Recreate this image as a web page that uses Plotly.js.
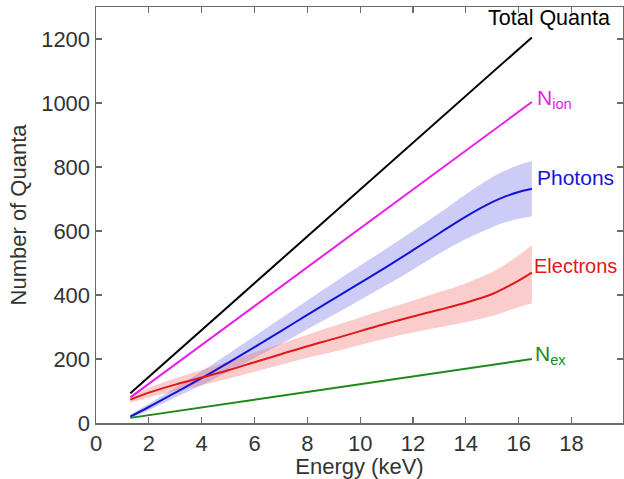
<!DOCTYPE html>
<html>
<head>
<meta charset="utf-8">
<script src="https://cdn.plot.ly/plotly-3.0.1.min.js"></script>
<style>html,body{margin:0;padding:0;background:#fff;}#chart{width:624px;height:479px;}</style>
</head>
<body>
<div id="chart"></div>
<script>
// Straight-line series (endpoints)
const lineEnergy = [1.3, 16.5];
const totalQuanta = [93, 1205];
const nIon = [80, 1003];
const nEx = [16, 200];

// Curved series with uncertainty bands
const energy = [1.3, 2, 3, 4, 5, 6, 7, 8, 9, 10, 11, 12, 13, 14, 15, 15.5, 16, 16.5];
const photons = [20, 50, 95, 140, 188, 237, 287, 338, 388, 438, 488, 540, 593, 645, 690, 708, 722, 732];
const photonsUpper = [26, 60, 110, 162, 216, 271, 327, 383, 438, 492, 545, 600, 656, 715, 768, 789, 806, 818];
const photonsLower = [14, 40, 80, 118, 160, 203, 247, 293, 338, 384, 431, 480, 530, 575, 612, 627, 638, 646];
const electrons = [73, 95, 120, 142, 165, 190, 215, 240, 263, 287, 311, 333, 354, 376, 403, 423, 445, 470];
const electronsUpper = [83, 110, 140, 166, 192, 220, 248, 276, 303, 330, 357, 383, 409, 437, 472, 496, 524, 556];
const electronsLower = [63, 80, 100, 118, 138, 160, 182, 204, 223, 244, 265, 283, 299, 315, 334, 348, 362, 374];

const labels = ['Total Quanta', 'N<sub>ion</sub>', 'Photons', 'Electrons', 'N<sub>ex</sub>'];
const xTicks = [0, 2, 4, 6, 8, 10, 12, 14, 16, 18];
const yTicks = [0, 200, 400, 600, 800, 1000, 1200];

const traces = [
  {x: energy, y: photonsLower, mode: 'lines', line: {width: 0, color: 'rgba(0,0,0,0)', shape: 'spline'}, hoverinfo: 'skip', showlegend: false},
  {x: energy, y: photonsUpper, mode: 'lines', fill: 'tonexty', fillcolor: 'rgba(120,120,235,0.38)', line: {width: 0, color: 'rgba(0,0,0,0)', shape: 'spline'}, hoverinfo: 'skip', showlegend: false},
  {x: energy, y: electronsLower, mode: 'lines', line: {width: 0, color: 'rgba(0,0,0,0)', shape: 'spline'}, hoverinfo: 'skip', showlegend: false},
  {x: energy, y: electronsUpper, mode: 'lines', fill: 'tonexty', fillcolor: 'rgba(240,110,110,0.35)', line: {width: 0, color: 'rgba(0,0,0,0)', shape: 'spline'}, hoverinfo: 'skip', showlegend: false},
  {x: lineEnergy, y: totalQuanta, mode: 'lines', line: {color: '#000000', width: 2}, name: labels[0]},
  {x: lineEnergy, y: nIon, mode: 'lines', line: {color: '#e81ce8', width: 2}, name: labels[1]},
  {x: energy, y: photons, mode: 'lines', line: {color: '#1414d8', width: 2, shape: 'spline'}, name: labels[2]},
  {x: energy, y: electrons, mode: 'lines', line: {color: '#e01818', width: 2, shape: 'spline'}, name: labels[3]},
  {x: lineEnergy, y: nEx, mode: 'lines', line: {color: '#1a8a1a', width: 2}, name: labels[4]}
];

const fnt = {family: 'Liberation Sans, Arial, sans-serif', size: 22, color: '#333333'};
const annotations = [
  {x: 14.75, y: 1267, text: labels[0], color: '#000000', size: 21.5},
  {x: 16.62, y: 1012, text: labels[1], color: '#e81ce8', size: 21},
  {x: 16.62, y: 767, text: labels[2], color: '#1414d8', size: 21},
  {x: 16.5, y: 491, text: labels[3], color: '#e01818', size: 20},
  {x: 16.55, y: 212, text: labels[4], color: '#1a8a1a', size: 21}
].map(a => ({x: a.x, y: a.y, xref: 'x', yref: 'y', text: a.text, showarrow: false,
  xanchor: 'left', yanchor: 'middle', font: {family: fnt.family, size: a.size, color: a.color}}));

const axisCommon = {
  showgrid: false, zeroline: false, showline: true, linecolor: '#6a6a6a', linewidth: 1.5,
  mirror: 'ticks', ticks: 'inside', ticklen: 6, tickwidth: 1.2, tickcolor: '#6a6a6a',
  tickfont: fnt
};

const layout = {
  width: 624, height: 479,
  margin: {l: 96, r: 1, t: 7, b: 56},
  paper_bgcolor: '#ffffff', plot_bgcolor: '#ffffff',
  showlegend: false,
  xaxis: Object.assign({}, axisCommon, {range: [0, 19.95], tickvals: xTicks, ticktext: xTicks.map(String),
    title: {text: 'Energy (keV)', font: fnt, standoff: 1}}),
  yaxis: Object.assign({}, axisCommon, {range: [0, 1300], tickvals: yTicks, ticktext: yTicks.map(String),
    title: {text: 'Number of Quanta', font: fnt, standoff: 8}}),
  annotations: annotations
};

Plotly.newPlot('chart', traces, layout, {displayModeBar: false, staticPlot: true});
</script>
</body>
</html>
